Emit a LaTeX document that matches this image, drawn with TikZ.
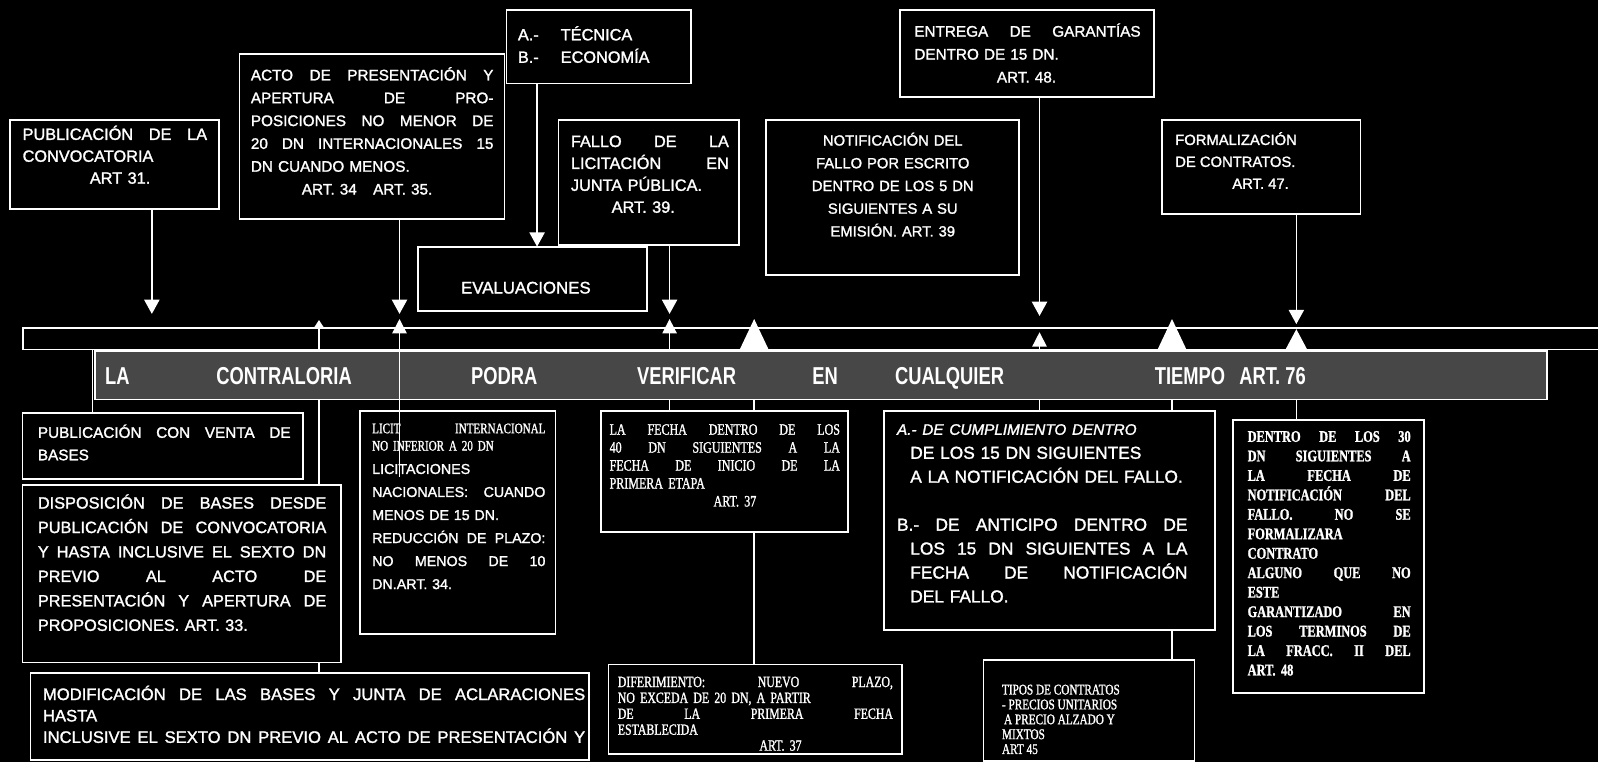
\documentclass[tikz,border=0pt]{standalone}
\usepackage{fontspec}
\setmainfont{Liberation Sans}[FakeBold=1.5]
\newfontfamily\tms[FakeStretch=0.76,FakeBold=1.2]{Liberation Serif}
\newfontfamily\bannerf[FakeStretch=0.75]{Liberation Sans}
\usetikzlibrary{arrows.meta}
\pgfdeclarelayer{back}
\pgfdeclarelayer{wires}
\pgfsetlayers{back,wires,main}
\newlength\JW
\newcommand\JL[1]{\leavevmode\hbox to\JW{\spaceskip=.3em plus 1fil\xspaceskip=.3em plus 1fil\relax #1}}
\newcommand\JI[1]{\leavevmode\hspace*{13pt}\hbox to\dimexpr\JW-13pt\relax{\spaceskip=.3em plus 1fil\xspaceskip=.3em plus 1fil\relax #1}}
\newcommand\fs[2]{\fontsize{#1}{#2}\selectfont}
\begin{document}
\begin{tikzpicture}[x=1pt,y=-1pt,
  bx/.style={draw=white, line width=1.8pt, fill=black, inner sep=0pt, outer sep=0pt, anchor=north west},
  tx/.style={text=white, inner sep=0pt, anchor=north west, align=left},
  bw/.style={text=white, inner sep=0pt, anchor=base west, font=\bannerf\fs{24}{26}\bfseries},
  wire/.style={draw=white, line width=1.4pt},
  dar/.style={wire, -{Triangle[width=15pt,length=14pt]}},
  uar/.style={wire, -{Triangle[width=14pt,length=14pt]}},
  tinyar/.style={wire, -{Triangle[width=10pt,length=8pt]}},
  midar/.style={wire, -{Triangle[width=22pt,length=21pt]}},
  bigar/.style={wire, -{Triangle[width=28pt,length=30pt]}}]
\useasboundingbox (0,0) rectangle (1568,748);
\begin{pgfonlayer}{back}
\fill[black] (0,0) rectangle (1568,748);
\end{pgfonlayer}

% time bar and banner
\node[draw=white, line width=1.5pt, inner sep=0pt, minimum width=1570pt, minimum height=21pt, anchor=north west] (bar) at (22,321) {};
\node[bx, fill=black!72, minimum width=1425pt, minimum height=48pt] (banner) at (93,344) {};
\node[bw] (w1) at (103,377) {LA};
\node[bw] (w2) at (212,377) {CONTRALORIA};
\node[bw] (w3) at (462,377) {PODRA};
\node[bw] (w4) at (625,377) {VERIFICAR};
\node[bw] (w5) at (797,377) {EN};
\node[bw] (w6) at (878,377) {CUALQUIER};
\node[bw] (w7) at (1133,377) {TIEMPO};
\node[bw] (w8) at (1216,377) {ART. 76};

% top boxes
\node[bx, minimum width=205pt, minimum height=87pt] (pubconv) at (10,118) {};
\node[tx, text width=181pt, font=\fs{16}{21.5}] (pubconvT) at (22,122) {\setlength\JW{181pt}\strut\JL{PUBLICACIÓN DE LA}\\CONVOCATORIA\\\hspace*{66pt}ART 31.};

\node[bx, minimum width=260pt, minimum height=162pt] (acto) at (235,53) {};
\node[tx, text width=238pt, font=\fs{15}{22.4}] (actoT) at (246,63) {\setlength\JW{238pt}\strut\JL{ACTO DE PRESENTACIÓN Y}\\\JL{APERTURA DE PRO-}\\\JL{POSICIONES NO MENOR DE}\\\JL{20 DN INTERNACIONALES 15}\\DN CUANDO MENOS.\\\hspace*{50pt}ART. 34\hspace{16pt}ART. 35.};

\node[bx, minimum width=181pt, minimum height=72pt] (ab) at (497,10) {};
\node[tx, font=\fs{16}{22}] (abT) at (508,24) {\strut\makebox[42pt][l]{A.-}TÉCNICA\\\makebox[42pt][l]{B.-}ECONOMÍA};

\node[bx, minimum width=225pt, minimum height=63pt] (eval) at (410,242) {};
\node[text=white, inner sep=0pt, anchor=base, font=\fs{16.5}{20}] (evalT) at (516,288) {EVALUACIONES};

\node[bx, minimum width=177pt, minimum height=122pt] (fallo) at (548,118) {};
\node[tx, text width=155pt, font=\fs{16}{21.5}] (falloT) at (560,129) {\setlength\JW{155pt}\strut\JL{FALLO DE LA}\\\JL{LICITACIÓN EN}\\JUNTA PÚBLICA.\\\hspace*{40pt}ART. 39.};

\node[bx, minimum width=248pt, minimum height=152pt] (notif) at (752,118) {};
\node[tx, anchor=north, align=center, text width=240pt, font=\fs{14.5}{22.3}] (notifT) at (876,127) {\strut NOTIFICACIÓN DEL\\FALLO POR ESCRITO\\DENTRO DE LOS 5 DN\\SIGUIENTES A SU\\EMISIÓN. ART. 39};

\node[bx, minimum width=249pt, minimum height=85pt] (entrega) at (883,10) {};
\node[tx, text width=222pt, font=\fs{15}{22.5}] (entregaT) at (897,20) {\setlength\JW{222pt}\strut\JL{ENTREGA DE GARANTÍAS}\\DENTRO DE 15 DN.\\\hspace*{81pt}ART. 48.};

\node[bx, minimum width=195pt, minimum height=92pt] (formal) at (1140,118) {};
\node[tx, font=\fs{14.5}{21.5}] (formalT) at (1153,127) {\strut FORMALIZACIÓN\\DE CONTRATOS.\\\hspace*{56pt}ART. 47.};

% bottom boxes
\node[bx, minimum width=275pt, minimum height=65pt] (pubventa) at (22,405) {};
\node[tx, text width=248pt, font=\fs{15}{22}] (pubventaT) at (37,414) {\setlength\JW{248pt}\strut\JL{PUBLICACIÓN CON VENTA DE}\\BASES};

\node[bx, minimum width=313pt, minimum height=174pt] (disp) at (22,476) {};
\node[tx, text width=283pt, font=\fs{16}{24}] (dispT) at (37,482) {\setlength\JW{283pt}\strut\JL{DISPOSICIÓN DE BASES DESDE}\\\JL{PUBLICACIÓN DE CONVOCATORIA}\\\JL{Y HASTA INCLUSIVE EL SEXTO DN}\\\JL{PREVIO AL ACTO DE}\\\JL{PRESENTACIÓN Y APERTURA DE}\\PROPOSICIONES. ART. 33.};

\node[bx, minimum width=548pt, minimum height=86pt] (modif) at (30,660) {};
\node[tx, text width=532pt, font=\fs{16.3}{21}] (modifT) at (42,672) {\setlength\JW{532pt}\strut\JL{MODIFICACIÓN DE LAS BASES Y JUNTA DE ACLARACIONES}\\HASTA\\\JL{INCLUSIVE EL SEXTO DN PREVIO AL ACTO DE PRESENTACIÓN Y}};

\node[bx, minimum width=192pt, minimum height=219pt] (licit) at (353,403) {};
\node[tx, text width=170pt, font=\tms\fs{14.3}{17}] (licitA) at (365,413) {\setlength\JW{170pt}\strut\JL{LICIT INTERNACIONAL}\\NO INFERIOR A 20 DN};
\node[tx, text width=170pt, font=\fs{14}{22.6}] (licitB) at (365,449) {\setlength\JW{170pt}\strut LICITACIONES\\\JL{NACIONALES: CUANDO}\\MENOS DE 15 DN.\\\JL{REDUCCIÓN DE PLAZO:}\\\JL{NO MENOS DE 10}\\DN.ART. 34.};

\node[bx, minimum width=242pt, minimum height=119pt] (lafecha) at (590,403) {};
\node[tx, text width=226pt, font=\tms\fs{15.5}{17.6}] (lafechaT) at (598,414) {\setlength\JW{226pt}\strut\JL{LA FECHA DENTRO DE LOS}\\\JL{40 DN SIGUIENTES A LA}\\\JL{FECHA DE INICIO DE LA}\\PRIMERA ETAPA\\\hspace*{102pt}ART. 37};

\node[bx, minimum width=288pt, minimum height=88pt] (difer) at (597,652) {};
\node[tx, text width=270pt, font=\tms\fs{15.3}{15.6}] (diferT) at (606,663) {\setlength\JW{270pt}\strut\JL{DIFERIMIENTO: NUEVO PLAZO,}\\NO EXCEDA DE 20 DN, A PARTIR\\\JL{DE LA PRIMERA FECHA}\\ESTABLECIDA\\\hspace*{139pt}ART. 37};

\node[bx, minimum width=325pt, minimum height=215pt] (cumpl) at (867,403) {};
\node[tx, text width=300pt, font=\fs{17}{23.5}] (cumplT) at (880,410) {\setlength\JW{285pt}\strut{\fs{15}{23.5}\itshape A.- DE CUMPLIMIENTO DENTRO}\\\hspace*{13pt}DE LOS 15 DN SIGUIENTES\\\hspace*{13pt}A LA NOTIFICACIÓN DEL FALLO.\\\mbox{}\\\JL{B.- DE ANTICIPO DENTRO DE}\\\JI{LOS 15 DN SIGUIENTES A LA}\\\JI{FECHA DE NOTIFICACIÓN}\\\hspace*{13pt}DEL FALLO.};

\node[bx, minimum width=207pt, minimum height=99pt] (tipos) at (965,648) {};
\node[tx, font=\tms\fs{14.5}{14.6}] (tiposT) at (983,671) {\strut TIPOS DE CONTRATOS\\- PRECIOS UNITARIOS\\\hspace*{2pt}A PRECIO ALZADO Y\\MIXTOS\\ART 45};

\node[bx, minimum width=187pt, minimum height=268pt] (dentro) at (1210,412) {};
\node[tx, text width=160pt, font=\tms\bfseries\fs{16}{19.1}] (dentroT) at (1224,420) {\setlength\JW{160pt}\strut\JL{DENTRO DE LOS 30}\\\JL{DN SIGUIENTES A}\\\JL{LA FECHA DE}\\\JL{NOTIFICACIÓN DEL}\\\JL{FALLO. NO SE}\\FORMALIZARA\\CONTRATO\\\JL{ALGUNO QUE NO}\\ESTE\\\JL{GARANTIZADO EN}\\\JL{LOS TERMINOS DE}\\\JL{LA FRACC. II DEL}\\ART. 48};

% arrow tips and free ends
\coordinate (t1) at (149,308);
\coordinate (t2) at (392,308);
\coordinate (t3) at (527,242);
\coordinate (t4) at (657,308);
\coordinate (t5) at (1020,310);
\coordinate (t6) at (1272,318);
\coordinate (u0) at (91,342);
\coordinate (u1) at (313,314);
\coordinate (u2) at (392,313);
\coordinate (u2s) at (392,468);
\coordinate (u3) at (657,313);
\coordinate (u4) at (740,313);
\coordinate (u5) at (1020,326);
\coordinate (u6) at (1150,313);
\coordinate (u7) at (1272,323);

\begin{pgfonlayer}{wires}
\draw[dar] (t1 |- pubconv.south) -- (t1);
\draw[dar] (t2 |- acto.south) -- (t2);
\draw[dar] (t3 |- ab.south) -- (t3 |- eval.north);
\draw[dar] (t4 |- fallo.south) -- (t4);
\draw[dar] (t5 |- entrega.south) -- (t5);
\draw[dar] (t6 |- formal.south) -- (t6);
\draw[wire] (u0 |- pubventa.north) -- (u0 |- bar.south);
\draw[tinyar] (u1 |- modif.north) -- (u1);
\draw[uar] (u3 |- lafecha.north) -- (u3);
\draw[bigar] (u4 |- difer.north) -- (u4);
\draw[uar] (u5 |- cumpl.north) -- (u5);
\draw[bigar] (u6 |- tipos.north) -- (u6);
\draw[midar] (u7 |- dentro.north) -- (u7);
\end{pgfonlayer}
\draw[uar] (u2s) -- (u2);
\end{tikzpicture}
\end{document}
